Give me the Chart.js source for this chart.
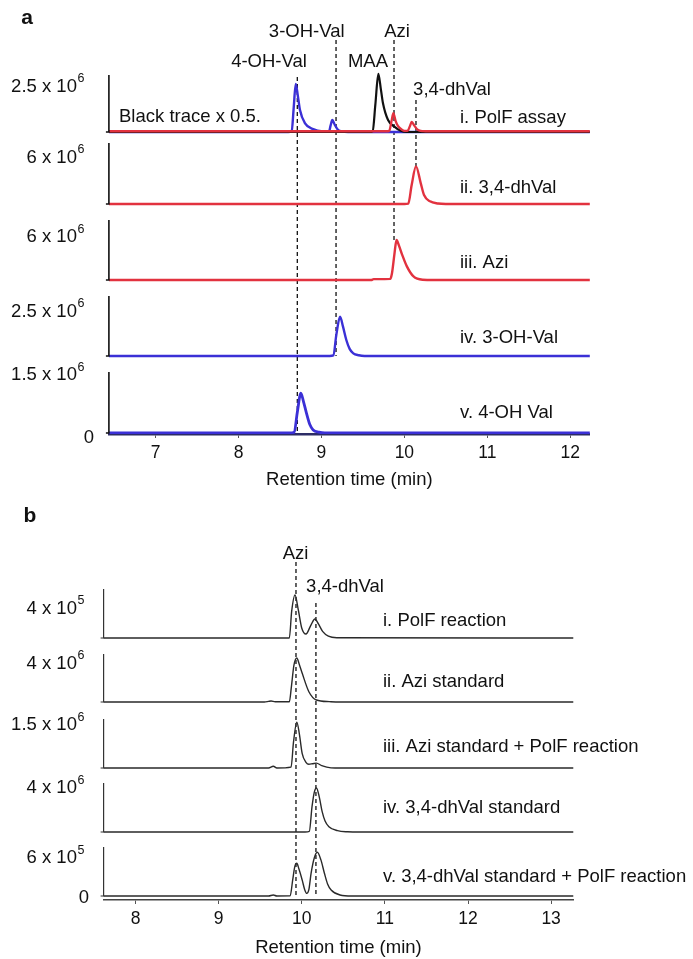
<!DOCTYPE html>
<html>
<head>
<meta charset="utf-8">
<script src="https://cdn.jsdelivr.net/npm/chart.js@4.4.1/dist/chart.umd.min.js"></script>
<style>
  html, body { margin: 0; padding: 0; background: #fff; }
  #wrap { position: relative; width: 693px; height: 959px; }
  #chartA { position: absolute; left: 0; top: 0; }
  #chartB { position: absolute; left: 0; top: 491px; }
</style>
</head>
<body>
<div id="wrap">
  <canvas id="chartA" width="693" height="491"></canvas>
  <canvas id="chartB" width="693" height="468"></canvas>
</div>
<script>
// ---------- data: panel a (retention time in min, intensity in counts) ----------
const aTicks = [7, 8, 9, 10, 11, 12]

const aIBlueT  = [6.44, 8.60, 8.641, 8.665, 8.69, 8.715, 8.741, 8.80, 8.90, 9.02, 9.09, 9.11, 9.131, 9.16, 9.20, 9.25, 9.32, 12.24]
const aIBlueY  = [0, 0, 0.03e6, 1.3e6, 2.64e6, 2.0e6, 1.21e6, 0.49e6, 0.16e6, 0.03e6, 0.02e6, 0.35e6, 0.66e6, 0.40e6, 0.12e6, 0.03e6, 0, 0]
const aIBlackT = [6.44, 9.58, 9.618, 9.65, 9.686, 9.715, 9.742, 9.803, 9.887, 9.95, 10.03, 12.24]
const aIBlackY = [0, 0, 0.05e6, 1.5e6, 3.19e6, 2.4e6, 1.58e6, 0.66e6, 0.27e6, 0.08e6, 0, 0]
const aIRedT   = [6.44, 9.80, 9.82, 9.845, 9.867, 9.895, 9.922, 9.98, 10.02, 10.04, 10.065, 10.089, 10.12, 10.16, 10.225, 10.30, 12.24]
const aIRedY   = [0.04e6, 0.04e6, 0.08e6, 0.6e6, 1.04e6, 0.6e6, 0.33e6, 0.1e6, 0.06e6, 0.07e6, 0.3e6, 0.55e6, 0.35e6, 0.12e6, 0.05e6, 0.04e6, 0.04e6]
const aIIT     = [6.44, 10.00, 10.047, 10.088, 10.14, 10.197, 10.237, 10.309, 10.406, 10.50, 12.24]
const aIIY     = [0, 0, 0.05e6, 2.45e6, 4.85e6, 2.7e6, 1.16e6, 0.34e6, 0.06e6, 0, 0]
const aIIIT    = [6.44, 9.60, 9.63, 9.83, 9.85, 9.88, 9.905, 9.935, 9.974, 10.03, 10.11, 10.22, 10.35, 12.24]
const aIIIY    = [0, 0, 0.12e6, 0.15e6, 0.9e6, 3.6e6, 5.58e6, 4.8e6, 3.5e6, 1.9e6, 0.5e6, 0.04e6, 0, 0]
const aIVT     = [6.44, 9.10, 9.143, 9.18, 9.224, 9.26, 9.30, 9.34, 9.384, 9.45, 9.52, 12.24]
const aIVY     = [0, 0, 0.03e6, 1.2e6, 2.21e6, 1.65e6, 0.9e6, 0.4e6, 0.15e6, 0.04e6, 0, 0]
const aVT      = [6.44, 8.62, 8.671, 8.71, 8.752, 8.785, 8.82, 8.86, 8.90, 8.97, 9.04, 12.24]
const aVY      = [0, 0, 0.02e6, 0.55e6, 1.03e6, 0.8e6, 0.51e6, 0.22e6, 0.08e6, 0.02e6, 0, 0]

const aRowNames  = ['i. PolF assay', 'ii. 3,4-dhVal', 'iii. Azi', 'iv. 3-OH-Val', 'v. 4-OH Val']
const aRowTicks  = [2.5e6, 6e6, 6e6, 2.5e6, 1.5e6]
const aRowLabels = ['2.5 x 10^6', '6 x 10^6', '6 x 10^6', '2.5 x 10^6', '1.5 x 10^6']
const aRowMax    = [3.13e6, 7.87e6, 8.37e6, 3.37e6, 1.58e6]
const aMarkerT   = [8.709, 9.176, 9.875, 10.14]
const aMarkerNames = ['4-OH-Val', '3-OH-Val', 'Azi', '3,4-dhVal', 'MAA']

// ---------- data: panel b ----------
const bTicks = [8, 9, 10, 11, 12, 13]

const bIT   = [7.615, 9.85, 9.878, 9.918, 9.958, 9.999, 10.05, 10.11, 10.158, 10.20, 10.25, 10.32, 10.42, 13.27]
const bIY   = [0, 0, 3.6e5, 5.83e5, 3.8e5, 1.36e5, 0.54e5, 1.76e5, 2.58e5, 1.9e5, 0.9e5, 0.25e5, 0.04e5, 0]
const bIIT  = [7.615, 9.55, 9.60, 9.63, 9.68, 9.85, 9.875, 9.905, 9.94, 9.97, 10.005, 10.085, 10.176, 10.33, 10.45, 13.27]
const bIIY  = [0, 0, 0.06e6, 0.1e6, 0.02e6, 0.02e6, 1.6e6, 3.8e6, 4.57e6, 3.9e6, 2.98e6, 1.07e6, 0.21e6, 0.04e6, 0, 0]
const bIIIT = [7.615, 9.60, 9.657, 9.70, 9.871, 9.90, 9.94, 9.97, 10.005, 10.05, 10.085, 10.13, 10.176, 10.24, 10.30, 10.40, 13.27]
const bIIIY = [0, 0, 0.06e6, 0, 0.03e6, 0.9e6, 1.6e6, 1.2e6, 0.5e6, 0.2e6, 0.13e6, 0.15e6, 0.17e6, 0.08e6, 0.03e6, 0, 0]
const bIVT  = [7.615, 10.04, 10.09, 10.123, 10.15, 10.176, 10.21, 10.245, 10.28, 10.326, 10.43, 10.55, 10.70, 13.27]
const bIVY  = [0, 0, 0.05e6, 2.3e6, 3.6e6, 4.0e6, 3.2e6, 1.85e6, 1.0e6, 0.48e6, 0.12e6, 0.02e6, 0, 0]
const bVT   = [7.615, 9.60, 9.657, 9.70, 9.86, 9.89, 9.915, 9.94, 9.965, 10.005, 10.035, 10.059, 10.085, 10.112, 10.15, 10.187, 10.23, 10.272, 10.31, 10.353, 10.46, 10.60, 13.27]
const bVY   = [0, 0, 0.16e5, 0, 0.02e5, 2.5e5, 4.6e5, 5.16e5, 4.3e5, 2.5e5, 1.0e5, 0.42e5, 1.0e5, 3.6e5, 6.0e5, 6.9e5, 5.7e5, 3.6e5, 1.9e5, 0.95e5, 0.16e5, 0, 0]

const bRowNames  = ['i. PolF reaction', 'ii. Azi standard', 'iii. Azi standard + PolF reaction', 'iv. 3,4-dhVal standard', 'v. 3,4-dhVal standard + PolF reaction']
const bRowTicks  = [4e5, 4e6, 1.5e6, 4e6, 6e5]
const bRowLabels = ['4 x 10^5', '4 x 10^6', '1.5 x 10^6', '4 x 10^6', '6 x 10^5']
const bRowMax    = [6.64e5, 4.99e6, 1.71e6, 4.45e6, 7.74e5]
const bMarkerT   = [9.93, 10.17]
const bMarkerNames = ['Azi', '3,4-dhVal']

// ---------- layout (page pixels) ----------
const FONT = '"Liberation Sans", Arial, Helvetica, sans-serif'
const RED = '#e2323f'
const BLUE = '#3b30d6'
const OFF_B = 491

const layoutA = {
  top: 20, bottom: 434,
  base:   [132, 204, 280, 356, 433],
  labelY: [86.5, 157.5, 237, 311.5, 375],
  nameY:  [117.8, 188.3, 263.3, 338.3, 413.3], nameX: 460,
  markerSpan: [[77, 434], [40, 356], [40, 240], [100, 167]],
  markerText: [[269, 61.7], [306.7, 31.7], [397, 31.7], [452, 89.8], [368, 61.7]],
  zero: [89, 438]
}
const layoutB = {
  top: 540, bottom: 900,
  base:   [638, 702, 768, 832, 896],
  labelY: [608.5, 663.5, 725, 788, 858],
  nameY:  [620.5, 681.7, 746.7, 808.3, 876.7], nameX: 383,
  markerSpan: [[562, 896], [603, 896]],
  markerText: [[295.6, 554], [345, 586.5]],
  zero: [84, 898]
}

function pts(t, y) { return t.map((v, i) => ({ x: v, y: y[i] })) }

// one hidden y scale per trace, all spanning the full plot height
function rowScales(lay, ticks) {
  const s = {}
  lay.base.forEach((b, k) => {
    const ppu = (b - lay.labelY[k]) / ticks[k]
    s['y' + k] = { type: 'linear', axis: 'y', position: 'left', display: false,
      min: -(lay.bottom - b) / ppu, max: (b - lay.top) / ppu }
  })
  return s
}

function line(data, axis, color, width, order) {
  return { data: data, yAxisID: axis, borderColor: color, borderWidth: width,
    pointRadius: 0, fill: false, cubicInterpolationMode: 'monotone', order: order,
    borderJoinStyle: 'round', borderCapStyle: 'round' }
}

function txt(ctx, s, x, y, align, size, weight) {
  ctx.font = (weight || '') + ' ' + size + 'px ' + FONT
  ctx.textAlign = align
  ctx.textBaseline = 'middle'
  ctx.fillStyle = '#111'
  ctx.fillText(s, x, y)
}

function sci(ctx, label, xRight, y) {
  const [mant, exp] = label.split('^')
  ctx.font = '12.5px ' + FONT
  const sw = exp ? ctx.measureText(exp).width : 0
  txt(ctx, mant, xRight - sw - 0.5, y, 'right', 18.5)
  if (exp) txt(ctx, exp, xRight - sw, y - 7.5, 'left', 12.5)
}

function panelPlugin(lay, off, opts) {
  return {
    id: 'panel' + off,
    beforeDatasetsDraw(chart) {
      const ctx = chart.ctx, x = chart.scales.x
      ctx.save()
      ctx.strokeStyle = '#111'
      ctx.lineWidth = 1.3
      ctx.setLineDash([4, 3])
      opts.markers.forEach((t, i) => {
        const px = x.getPixelForValue(t)
        ctx.beginPath()
        ctx.moveTo(px, lay.markerSpan[i][0] - off)
        ctx.lineTo(px, lay.markerSpan[i][1] - off)
        ctx.stroke()
      })
      ctx.restore()
    },
    afterDraw(chart) {
      const ctx = chart.ctx, left = chart.chartArea.left
      ctx.save()
      ctx.strokeStyle = opts.barColor
      ctx.lineWidth = opts.barWidth
      opts.rowMax.forEach((m, k) => {
        const s = chart.scales['y' + k]
        const y0 = s.getPixelForValue(0), y1 = s.getPixelForValue(m)
        ctx.beginPath()
        ctx.moveTo(left - 3, y0)
        ctx.lineTo(left, y0)
        ctx.lineTo(left, y1)
        ctx.stroke()
        sci(ctx, opts.rowLabels[k], 84.4, s.getPixelForValue(opts.rowTicks[k]))
        txt(ctx, opts.rowNames[k], lay.nameX, lay.nameY[k] - off, 'left', 18.5)
      })
      txt(ctx, '0', lay.zero[0], lay.zero[1] - off, 'center', 18.5)
      opts.markerNames.forEach((n, i) => {
        const p = lay.markerText[i]
        txt(ctx, n, p[0], p[1] - off, 'center', 18.5)
      })
      opts.extra(ctx)
      ctx.restore()
    }
  }
}

function xScale(min, max, height, ticks) {
  return {
    type: 'linear', min: min, max: max, position: 'bottom',
    afterFit(s) { s.height = height },
    afterBuildTicks(s) { s.ticks = ticks.map(v => ({ value: v })) },
    ticks: { stepSize: 1, includeBounds: false, padding: 5, color: '#111',
      font: { family: FONT, size: 17.5 } },
    grid: { drawOnChartArea: false, drawTicks: true, tickLength: 4, color: '#555' },
    border: { display: true, color: '#2c2c66', width: 2.5 },
    title: { display: true, text: 'Retention time (min)', color: '#111', padding: 0,
      font: { family: FONT, size: 18.5 } }
  }
}

// ---------- panel a ----------
const scalesA = Object.assign({ x: xScale(6.437, 12.236, 57, aTicks) }, rowScales(layoutA, aRowTicks))
new Chart(document.getElementById('chartA'), {
  type: 'line',
  data: {
    datasets: [
      line(pts(aIRedT, aIRedY), 'y0', RED, 2.3, 0),
      line(pts(aIBlackT, aIBlackY), 'y0', '#111', 2.2, 1),
      line(pts(aIBlueT, aIBlueY), 'y0', BLUE, 2.4, 2),
      line(pts(aIIT, aIIY), 'y1', RED, 2.4, 3),
      line(pts(aIIIT, aIIIY), 'y2', RED, 2.4, 4),
      line(pts(aIVT, aIVY), 'y3', BLUE, 2.4, 5),
      line(pts(aVT, aVY), 'y4', BLUE, 2.8, 6)
    ]
  },
  options: {
    responsive: false, animation: false,
    layout: { padding: { left: 108.9, right: 103.2, top: layoutA.top, bottom: 0 } },
    scales: scalesA,
    plugins: { legend: { display: false }, tooltip: { enabled: false } }
  },
  plugins: [panelPlugin(layoutA, 0, {
    markers: aMarkerT, markerNames: aMarkerNames, rowMax: aRowMax, rowTicks: aRowTicks,
    rowLabels: aRowLabels, rowNames: aRowNames, barColor: '#111', barWidth: 1.6,
    extra(ctx) {
      txt(ctx, 'a', 27, 18, 'center', 21, 'bold')
      txt(ctx, 'Black trace x 0.5.', 119, 116.7, 'left', 18.5)
    }
  })]
})

// ---------- panel b ----------
const layB = Object.assign({}, layoutB, { top: layoutB.top - OFF_B, bottom: layoutB.bottom - OFF_B,
  base: layoutB.base.map(v => v - OFF_B), labelY: layoutB.labelY.map(v => v - OFF_B) })
const scalesB = Object.assign({ x: xScale(7.615, 13.267, 59, bTicks) }, rowScales(layB, bRowTicks))
scalesB.x.border = { display: true, color: '#444', width: 1.6 }
const GREY = '#2a2a2a'
new Chart(document.getElementById('chartB'), {
  type: 'line',
  data: {
    datasets: [
      line(pts(bIT, bIY), 'y0', GREY, 1.4, 0),
      line(pts(bIIT, bIIY), 'y1', GREY, 1.4, 1),
      line(pts(bIIIT, bIIIY), 'y2', GREY, 1.4, 2),
      line(pts(bIVT, bIVY), 'y3', GREY, 1.4, 3),
      line(pts(bVT, bVY), 'y4', GREY, 1.4, 4)
    ]
  },
  options: {
    responsive: false, animation: false,
    layout: { padding: { left: 103.6, right: 119.7, top: layB.top, bottom: 0 } },
    scales: scalesB,
    plugins: { legend: { display: false }, tooltip: { enabled: false } }
  },
  plugins: [panelPlugin(layoutB, OFF_B, {
    markers: bMarkerT, markerNames: bMarkerNames, rowMax: bRowMax, rowTicks: bRowTicks,
    rowLabels: bRowLabels, rowNames: bRowNames, barColor: '#333', barWidth: 1.2,
    extra(ctx) {
      txt(ctx, 'b', 30, 516 - OFF_B, 'center', 21, 'bold')
    }
  })]
})
</script>
</body>
</html>
